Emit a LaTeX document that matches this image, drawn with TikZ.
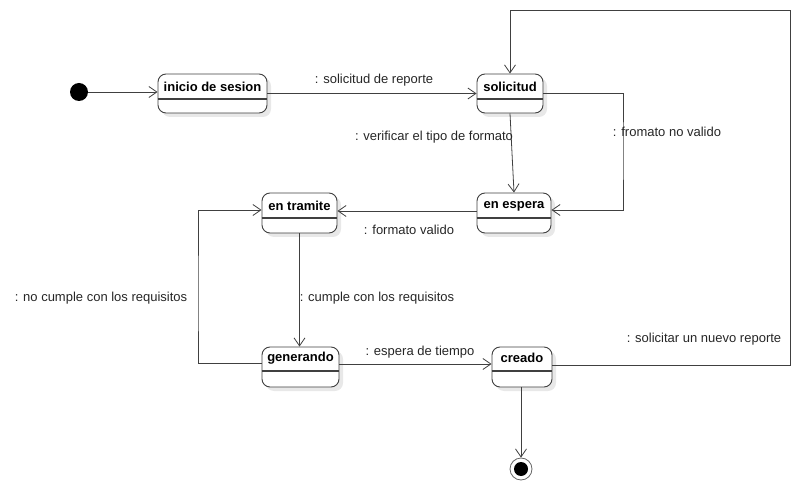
\documentclass[tikz,border=0pt]{standalone}
\usepackage{fontspec}
\setmainfont{Liberation Sans}
\usetikzlibrary{arrows.meta,shadows}
\begin{document}
\begin{tikzpicture}[x=1bp,y=-1bp,
  box/.style={draw=black!75, line width=0.9bp, rounded corners=8bp, fill=white, inner sep=0pt,
    drop shadow={shadow xshift=4bp, shadow yshift=-4bp, fill=black!9, opacity=1}},
  ttl/.style={font=\fontsize{13bp}{15bp}\selectfont\bfseries, inner sep=0pt},
  lbl/.style={font=\fontsize{13bp}{15bp}\selectfont, inner sep=0pt, text=black!85},
  sepline/.style={draw=black!75, line width=2bp},
  flow/.style={draw=black!75, line width=0.8bp, -{Straight Barb[length=8bp,width=11bp]}},
]
\useasboundingbox (0,0) rectangle (801,493);

% states: box, compartment separator, title
\node[box, minimum width=109bp, minimum height=39bp] (ini) at (212.5,93.5) {};
\draw[sepline] ([yshift=-25bp]ini.north west) -- ([yshift=-25bp]ini.north east);
\node[ttl] (iniT) at (212.5,87) {inicio de sesion};

\node[box, minimum width=66bp, minimum height=39bp] (sol) at (510,93.5) {};
\draw[sepline] ([yshift=-25bp]sol.north west) -- ([yshift=-25bp]sol.north east);
\node[ttl] (solT) at (510,87) {solicitud};

\node[box, minimum width=75bp, minimum height=40bp] (tra) at (299.5,213) {};
\draw[sepline] ([yshift=-25bp]tra.north west) -- ([yshift=-25bp]tra.north east);
\node[ttl] (traT) at (299.5,206) {en tramite};

\node[box, minimum width=74bp, minimum height=40bp] (esp) at (514,213) {};
\draw[sepline] ([yshift=-25bp]esp.north west) -- ([yshift=-25bp]esp.north east);
\node[ttl] (espT) at (514,206) {en espera};

\node[box, minimum width=77bp, minimum height=40bp] (gen) at (300.5,367) {};
\draw[sepline] ([yshift=-24bp]gen.north west) -- ([yshift=-24bp]gen.north east);
\node[ttl] (genT) at (300.5,358) {generando};

\node[box, minimum width=60bp, minimum height=40bp] (cre) at (522,367) {};
\draw[sepline] ([yshift=-24bp]cre.north west) -- ([yshift=-24bp]cre.north east);
\node[ttl] (creT) at (522,358) {creado};

% pseudo states
\node[circle, fill=black, minimum size=18bp, inner sep=0pt] (init) at (79,92) {};
\node[circle, draw=black!60, line width=0.8bp, minimum size=22bp, inner sep=0pt] (fin) at (521,469) {};
\fill[black] (fin.center) circle (7bp);

% bend points
\coordinate (loopR) at (790,10);
\coordinate (sR) at (623,150);
\coordinate (gL) at (198,300);

% transitions
\draw[flow] (init.east) -- (init.east -| ini.west);
\draw[flow] (ini.east) -- (ini.east -| sol.west);
\draw[flow] ([yshift=2bp]cre.east) -| (loopR) -| (sol.north);
\draw[flow] (sol.south) -- (esp.north);
\draw[flow] (sol.east) -| (sR) |- ([yshift=3bp]esp.east);
\draw[flow] ([yshift=2bp]esp.west) -- ([yshift=2bp]esp.west -| tra.east);
\draw[flow] (tra.south) -- (tra.south |- gen.north);
\draw[flow] ([yshift=4bp]gen.west) -| (gL) |- ([yshift=3bp]tra.west);
\draw[flow] ([yshift=3bp]gen.east) -- ([yshift=3bp]gen.east -| cre.west);
\draw[flow] (cre.south -| fin.north) -- (fin.north);

% transition labels
\node[lbl] at (374,80) {: solicitud de reporte};
\node[lbl] at (434,137) {: verificar el tipo de formato};
\node[lbl] at (667,132) {: fromato no valido};
\node[lbl] at (409,230) {: formato valido};
\node[lbl] at (377,298) {: cumple con los requisitos};
\node[lbl] at (101,298) {: no cumple con los requisitos};
\node[lbl] at (420,352) {: espera de tiempo};
\node[lbl] at (704,339) {: solicitar un nuevo reporte};
\end{tikzpicture}
\end{document}
